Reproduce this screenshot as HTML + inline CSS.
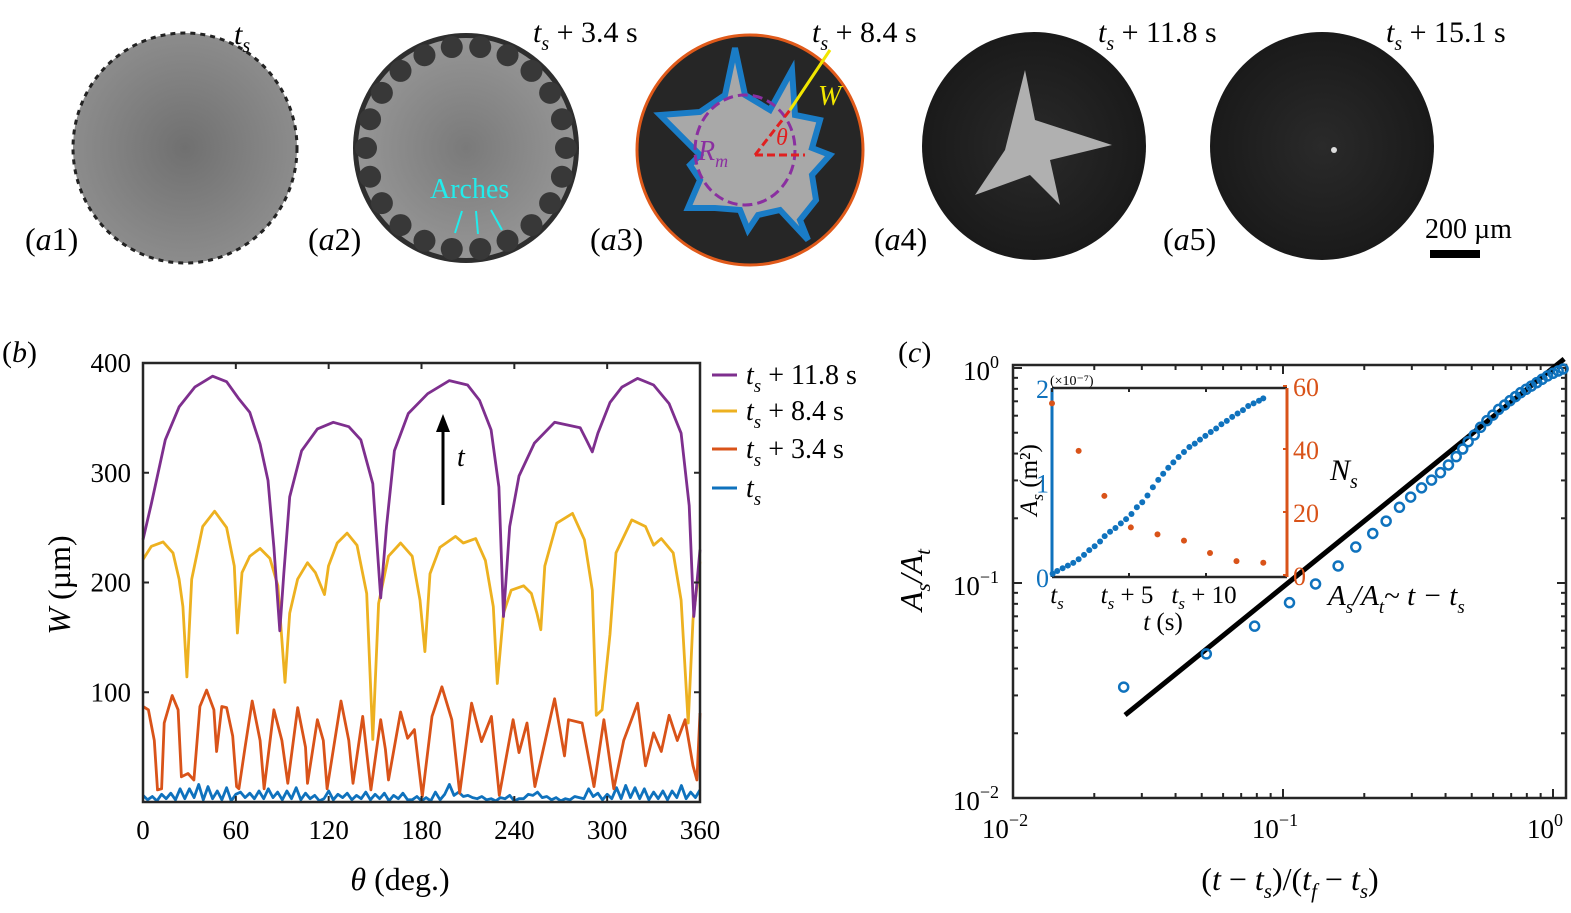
<!DOCTYPE html>
<html><head><meta charset="utf-8"><style>
html,body{margin:0;padding:0;background:#fff;}
svg{display:block;font-family:"Liberation Serif",serif;}
</style></head><body>
<svg id="fig" width="1571" height="913" viewBox="0 0 1571 913" xmlns="http://www.w3.org/2000/svg">
<defs>
<radialGradient id="g1" cx="50%" cy="50%" r="50%"><stop offset="0" stop-color="#707070"/><stop offset="1" stop-color="#8c8c8c"/></radialGradient>
<radialGradient id="g2" cx="50%" cy="50%" r="50%"><stop offset="0" stop-color="#7a7a7a"/><stop offset="1" stop-color="#959595"/></radialGradient>
<radialGradient id="gd" cx="50%" cy="50%" r="50%"><stop offset="0" stop-color="#2a2a2a"/><stop offset="1" stop-color="#1a1a1a"/></radialGradient>
</defs>
<g>
 <g>
  <ellipse cx="185" cy="148" rx="112" ry="115" fill="url(#g1)" stroke="#222" stroke-width="3" stroke-dasharray="5 5"/>
  <text x="234" y="44" font-size="30" font-style="italic">t<tspan font-size="20" dy="8">s</tspan></text>
  <text x="25" y="250" font-size="32">(<tspan font-style="italic">a</tspan>1)</text>
 </g>
 <g id="a2g">
  <ellipse cx="466" cy="148" rx="113" ry="115" fill="#2e2e2e"/>
  <ellipse cx="466" cy="148" rx="108" ry="110" fill="url(#g2)"/>
  <text x="533" y="42" font-size="30"><tspan font-style="italic">t</tspan><tspan font-size="20" dy="8" font-style="italic">s</tspan><tspan dy="-8"> + 3.4 s</tspan></text>
  <text x="430" y="198" font-size="28" fill="#22ecec">Arches</text>
  <path d="M462,211 L455,233 M476,211 L478,234 M491,210 L502,230" stroke="#22ecec" stroke-width="2"/>
  <text x="308" y="250" font-size="32">(<tspan font-style="italic">a</tspan>2)</text>
 </g>
 <g>
  <ellipse cx="750" cy="150" rx="113" ry="115" fill="#262626" stroke="#e05a1a" stroke-width="3"/>
  <path d="M735,48 L745,95 L770,110 L792,70 L795,115 L820,120 L812,148 L830,155 L812,175 L816,200 L800,220 L808,240 L780,210 L758,215 L748,230 L740,210 L715,208 L688,208 L700,180 L690,165 L700,155 L660,115 L700,112 L725,95 Z" fill="#a8a8a8" stroke="#1a7cc6" stroke-width="6"/>
  <ellipse cx="745" cy="150" rx="50" ry="55" fill="none" stroke="#8a2fa0" stroke-width="3" stroke-dasharray="10 5"/>
  <line x1="755" y1="155" x2="805" y2="155" stroke="#e02020" stroke-width="3" stroke-dasharray="8 4"/>
  <line x1="755" y1="155" x2="790" y2="110" stroke="#e02020" stroke-width="3" stroke-dasharray="8 4"/>
  <line x1="790" y1="110" x2="830" y2="50" stroke="#f2e600" stroke-width="3"/>
  <text x="818" y="105" font-size="28" font-style="italic" fill="#f2e600">W</text>
  <text x="698" y="160" font-size="28" font-style="italic" fill="#8a2fa0">R<tspan font-size="18" dy="7">m</tspan></text>
  <text x="776" y="145" font-size="24" font-style="italic" fill="#e02020">θ</text>
  <text x="812" y="42" font-size="30"><tspan font-style="italic">t</tspan><tspan font-size="20" dy="8" font-style="italic">s</tspan><tspan dy="-8"> + 8.4 s</tspan></text>
  <text x="590" y="250" font-size="32">(<tspan font-style="italic">a</tspan>3)</text>
 </g>
 <g>
  <ellipse cx="1034" cy="146" rx="112" ry="114" fill="url(#gd)"/>
  <path d="M1025,70 L1035,120 L1112,145 L1050,160 L1060,205 L1030,175 L975,195 L1005,150 Z" fill="#b0b0b0"/>
  <text x="1098" y="42" font-size="30"><tspan font-style="italic">t</tspan><tspan font-size="20" dy="8" font-style="italic">s</tspan><tspan dy="-8"> + 11.8 s</tspan></text>
  <text x="874" y="250" font-size="32">(<tspan font-style="italic">a</tspan>4)</text>
 </g>
 <g>
  <ellipse cx="1322" cy="146" rx="112" ry="114" fill="url(#gd)"/>
  <circle cx="1334" cy="150" r="3" fill="#ddd"/>
  <text x="1386" y="42" font-size="30"><tspan font-style="italic">t</tspan><tspan font-size="20" dy="8" font-style="italic">s</tspan><tspan dy="-8"> + 15.1 s</tspan></text>
  <text x="1163" y="250" font-size="32">(<tspan font-style="italic">a</tspan>5)</text>
  <text x="1425" y="238" font-size="28">200 µm</text>
  <rect x="1430" y="250" width="50" height="8" fill="#000"/>
 </g>
</g>
<g id="panelB"></g>
<g id="panelC"></g>
</svg>
<script>
// ---------- Panel (b) data ----------
const purpleTheta=[0,5.4,14.4,23.3,33.5,45,54,61.6,69,75.7,80.8,84.6,88.4,91,94.8,102.5,112.7,123,133,140.8,148.5,153.6,157.4,162.5,171.5,184,198,209.8,217.5,225,230,233,237,243,253,266,282.6,286.5,290.4,294,301.8,309.5,319.7,330,340,347.8,353,356,360];
const purpleW=[239,272,330,360,378,388,383,368,355,326,293,232,156,208,278,320,340,346,342,330,290,186,251,320,354,372,384,380,366,339,287,169,251,297,327,346,341,330,319,336,364,378,386,380,363,336,270,169,230];
const yellowTheta=[0,5.4,13,19.4,23.3,25.8,28.4,31.5,38.6,46.3,54,59,61,64,69,75.7,82,87.2,91.8,94.8,99.9,106.3,111.4,117.3,119.9,125.5,131.9,138.3,144.6,148.5,152.3,158.7,166.5,174,179,182.2,185.5,191.9,202,207,215,221.3,226.4,229,233,238,246,251,254.6,257.1,259.7,267.4,277.6,285.3,290.4,293,296.7,301.8,305.7,315.9,324.8,330,335,342.7,347.8,352.4,355.5,360];
const yellowW=[221,233,237,227,203,178,114,203,251,265,250,215,154,209,224,231,222,197,109,172,203,218,209,189,215,236,245,234,190,57,181,224,236,224,184,137,208,232,242,236,240,220,178,108,172,193,197,190,172,157,215,254,263,239,193,79,84,153,227,257,251,234,240,227,184,72,166,219];
const orangeTheta=[0,3.5,7.3,9.4,12,13.7,18.9,22.7,24.8,29.1,32.9,36.8,41.1,45.8,47.6,50.9,54,58,60.5,62,66,70.6,75.7,78.3,84.6,89.8,93.6,100,105,106.3,112.7,116.5,119,128,133,135.7,142,147.3,153.6,156.7,158.7,166.5,171,175.4,180.5,186.8,193.2,199.6,204.7,212.4,218.8,225.2,230.3,239.2,243,248.2,253.3,266,272.4,275,283.8,291.5,297.9,304.3,310.7,319.7,324.8,330,335,340,345.3,350.4,355.5,358,360];
const orangeW=[87,84,56,11,12,72,97,84,23,26,20,87,102,84,46,87,86,60,14,12,50,92,56,12,84,56,17,86,50,17,75,56,12,92,56,17,78,11,75,48,20,82,58,66,5,78,105,75,8,90,55,78,6,75,45,72,14,94,42,75,72,14,75,12,56,90,33,63,46,79,56,75,33,20,81];
const blueTheta=[0,3,6,9,12,15,18,21,24,27,30,33,36,39,42,45,48,51,54,57,60,63,66,69,72,75,78,81,84,87,90,93,96,99,102,105,108,111,114,117,120,123,126,129,132,135,138,141,144,147,150,153,156,159,162,165,168,171,174,177,180,183,186,189,192,195,198,201,204,207,210,213,216,219,222,225,228,231,234,237,240,243,246,249,252,255,258,261,264,267,270,273,276,279,282,285,288,291,294,297,300,303,306,309,312,315,318,321,324,327,330,333,336,339,342,345,348,351,354,357,360];
const blueW=[6,2,5,1,7,3,8,2,12,3,12,4,16,2,14,3,10,2,13,1,7,9,4,8,3,10,3,12,4,9,2,10,3,13,2,8,3,6,1,3,10,2,7,4,8,2,6,3,9,2,7,3,8,1,6,3,8,2,2,5,1,4,1,9,2,7,16,6,9,5,6,4,3,5,2,3,1,4,3,6,1,3,3,7,6,9,4,5,2,4,1,3,2,5,4,3,12,5,8,2,7,3,13,3,15,4,13,3,12,2,9,3,10,2,10,4,15,3,9,4,11];
const bXTicks=[0,60,120,180,240,300,360];
const bYTicks=[100,200,300,400];
const bLegend=["t_s + 11.8 s","t_s + 8.4 s","t_s + 3.4 s","t_s"];

// ---------- Panel (c) data ----------
const ratioX=[0.0257,0.052,0.0785,0.1057,0.132,0.160,0.186,0.215,0.241,0.270,0.297,0.326,0.355,0.383,0.410,0.438,0.463,0.485,0.511,0.539,0.569,0.599,0.629,0.662,0.693,0.726,0.759,0.795,0.831,0.871,0.911,0.954,1.0,1.045,1.09];
const ratioY=[0.0328,0.0468,0.063,0.081,0.099,0.120,0.147,0.170,0.194,0.225,0.251,0.277,0.301,0.326,0.354,0.387,0.420,0.454,0.488,0.530,0.569,0.604,0.642,0.673,0.705,0.736,0.768,0.796,0.824,0.855,0.886,0.918,0.945,0.968,0.99];
const fitX=[0.026,1.1];
const fitY=[0.0243,1.0];
const insetT=[0.04,0.34,0.69,1.03,1.38,1.73,2.08,2.42,2.77,3.12,3.42,3.77,4.12,4.47,4.81,5.16,5.51,5.86,6.20,6.55,6.90,7.22,7.55,7.88,8.22,8.57,8.92,9.27,9.61,9.96,10.31,10.66,11.00,11.35,11.70,12.05,12.40,12.74,13.09,13.44,13.72];
const insetA=[0.035,0.064,0.092,0.121,0.149,0.188,0.234,0.284,0.326,0.376,0.433,0.479,0.518,0.567,0.613,0.667,0.738,0.791,0.862,0.950,1.028,1.092,1.156,1.213,1.270,1.323,1.376,1.411,1.454,1.493,1.535,1.571,1.617,1.652,1.695,1.730,1.766,1.809,1.837,1.865,1.890];
const nsT=[0,1.73,3.40,5.12,6.85,8.57,10.26,11.98,13.72];
const nsN=[54.5,39.4,25.1,15.1,12.9,10.9,7.0,4.4,3.9];
const cDecades=[-2,-1,0];

const NS="http://www.w3.org/2000/svg";
function mk(tag,attrs,parent,txt){const e=document.createElementNS(NS,tag);for(const k in attrs)e.setAttribute(k,attrs[k]);if(txt!==undefined)e.textContent=txt;parent.appendChild(e);return e;}

// a2 arches decoration (image texture)
const A2=document.getElementById('a2g');
for(let k=0;k<22;k++){
  const ang=k/22*2*Math.PI;
  const ar=mk('ellipse',{cx:466+100*Math.cos(ang),cy:148+102*Math.sin(ang),rx:11,ry:11,fill:'#383838'},A2);
  A2.insertBefore(ar,A2.children[2]);
}

// ---- Panel b ----
const B=document.getElementById('panelB');
const bx0=143,bx1=700,by0=802,byTop=363;
const bxs=t=>bx0+(t/360)*(bx1-bx0);
const bys=w=>by0-(w/400)*(by0-byTop);
function line(xs,ys,color,name,sx,sy,parent,width){
  let d='';for(let i=0;i<xs.length;i++){d+=(i?'L':'M')+sx(xs[i]).toFixed(1)+','+sy(ys[i]).toFixed(1);}
  const p=mk('path',{d:d,fill:'none',stroke:color,'stroke-width':width||2.8,'stroke-linejoin':'round'},parent);
  
  
  return p;
}
line(blueTheta,blueW,'#0f72bd','series-ts',bxs,bys,B);
line(orangeTheta,orangeW,'#d95319','series-ts-3-4',bxs,bys,B);
line(yellowTheta,yellowW,'#edb120','series-ts-8-4',bxs,bys,B);
line(purpleTheta,purpleW,'#7e2f8e','series-ts-11-8',bxs,bys,B);
const bFrame=mk('rect',{x:bx0,y:byTop,width:bx1-bx0,height:by0-byTop,fill:'none',stroke:'#262626','stroke-width':2.5},B);


bXTicks.forEach(t=>{
  const x=bxs(t);
  mk('line',{x1:x,y1:by0,x2:x,y2:by0-6,stroke:'#262626','stroke-width':2},B);
  mk('line',{x1:x,y1:byTop,x2:x,y2:byTop+6,stroke:'#262626','stroke-width':2},B);
  const tl=mk('text',{x:x,y:by0+37,'font-size':27,'text-anchor':'middle'},B,String(t));
  
  
});
bYTicks.forEach(w=>{
  const y=bys(w);
  mk('line',{x1:bx0,y1:y,x2:bx0+6,y2:y,stroke:'#262626','stroke-width':2},B);
  mk('line',{x1:bx1,y1:y,x2:bx1-6,y2:y,stroke:'#262626','stroke-width':2},B);
  const tl=mk('text',{x:bx0-12,y:y+9,'font-size':27,'text-anchor':'end'},B,String(w));
  
  
});
mk('line',{x1:443,y1:505,x2:443,y2:430,stroke:'#000','stroke-width':3},B);
mk('polygon',{points:'436,432 450,432 443,414',fill:'#000'},B);
mk('text',{x:457,y:466,'font-size':28,'font-style':'italic'},B,'t');
const bxt=mk('text',{x:400,y:890,'font-size':32,'text-anchor':'middle'},B);


bxt.innerHTML='<tspan font-style="italic">θ</tspan> (deg.)';
const byt=mk('text',{x:0,y:0,'font-size':32,'text-anchor':'middle',transform:'translate(70,585) rotate(-90)'},B);


byt.innerHTML='<tspan font-style="italic">W</tspan> (µm)';
const bl=mk('text',{x:2,y:362,'font-size':30},B);
bl.innerHTML='(<tspan font-style="italic">b</tspan>)';


const legCols=['#7e2f8e','#edb120','#d95319','#0f72bd'];
const legY=[375,411,449,488];
bLegend.forEach((s,i)=>{
  const g=mk('g',{},B);
  
  
  mk('line',{x1:712,y1:legY[i],x2:737,y2:legY[i],stroke:legCols[i],'stroke-width':3},g);
  const parts=s.split(' + ');
  const t=mk('text',{x:746,y:legY[i]+9,'font-size':28},g);
  t.innerHTML='<tspan font-style="italic">t</tspan><tspan font-style="italic" font-size="19" dy="8">s</tspan>'+(parts[1]?'<tspan dy="-8"> + '+parts[1]+'</tspan>':'');
});

// ---- Panel c ----
const C=document.getElementById('panelC');
const cx0=1013,cx1=1566,cyTop=368,cyBot=798;
const cxs=v=>cx0+(Math.log10(v)+2)*270;
const cys=v=>cyTop-Math.log10(v)*215;
const cFrame=mk('rect',{x:cx0,y:cyTop-3,width:cx1-cx0,height:cyBot-cyTop+3,fill:'none',stroke:'#262626','stroke-width':2.5},C);


cDecades.forEach(d=>{
  for(let m=1;m<10;m++){
    const v=m*Math.pow(10,d);
    const x=cxs(v), len=m===1?9:5;
    if(x<=cx1){mk('line',{x1:x,y1:cyBot,x2:x,y2:cyBot-len,stroke:'#262626','stroke-width':2},C);
    mk('line',{x1:x,y1:cyTop-3,x2:x,y2:cyTop-3+len,stroke:'#262626','stroke-width':2},C);}
    const y=cys(v);
    if(y>=cyTop-3&&y<=cyBot){mk('line',{x1:cx0,y1:y,x2:cx0+len,y2:y,stroke:'#262626','stroke-width':2},C);
    mk('line',{x1:cx1,y1:y,x2:cx1-len,y2:y,stroke:'#262626','stroke-width':2},C);}
  }
  const xl=mk('text',{x:cxs(Math.pow(10,d))-8,y:cyBot+40,'font-size':27,'text-anchor':'middle'},C);
  xl.innerHTML='10<tspan font-size="18" dy="-12">'+(d<0?'−'+(-d):'0')+'</tspan>';
  
  
  const yl=mk('text',{x:cx0-14,y:cys(Math.pow(10,d))+12,'font-size':27,'text-anchor':'end'},C);
  yl.innerHTML='10<tspan font-size="18" dy="-12">'+(d<0?'−'+(-d):'0')+'</tspan>';
  
  
});
const fx2=Math.min(cx1,cxs(fitX[1]));
const fit=mk('line',{x1:cxs(fitX[0]),y1:cys(fitY[0]),x2:fx2,y2:cys(fitY[0])+(cys(fitY[1])-cys(fitY[0]))*(fx2-cxs(fitX[0]))/(cxs(1)-cxs(fitX[0])),stroke:'#000','stroke-width':5},C);


ratioX.forEach((v,i)=>{
  const x=cxs(v),y=cys(ratioY[i]);
  if(x>cx1)return;
  const c=mk('circle',{cx:x,cy:y,r:4.5,fill:'none',stroke:'#0f72bd','stroke-width':2.5},C);
  
  
});
const ft=mk('text',{x:1328,y:605,'font-size':29,'font-style':'italic'},C);
ft.innerHTML='A<tspan font-size="19" dy="8">s</tspan><tspan dy="-8">/A</tspan><tspan font-size="19" dy="8">t</tspan><tspan dy="-8" font-style="normal">~</tspan><tspan> t − t</tspan><tspan font-size="19" dy="8">s</tspan>';


const cxt=mk('text',{x:1290,y:890,'font-size':32,'text-anchor':'middle'},C);
cxt.innerHTML='(<tspan font-style="italic">t</tspan> − <tspan font-style="italic">t</tspan><tspan font-style="italic" font-size="21" dy="8">s</tspan><tspan dy="-8">)/(</tspan><tspan font-style="italic">t</tspan><tspan font-style="italic" font-size="21" dy="8">f</tspan><tspan dy="-8"> − </tspan><tspan font-style="italic">t</tspan><tspan font-style="italic" font-size="21" dy="8">s</tspan><tspan dy="-8">)</tspan>';


const cyt=mk('text',{x:0,y:0,'font-size':32,'font-style':'italic','text-anchor':'middle',transform:'translate(922,580) rotate(-90)'},C);
cyt.innerHTML='A<tspan font-size="21" dy="8">s</tspan><tspan dy="-8">/A</tspan><tspan font-size="21" dy="8">t</tspan>';


const cl=mk('text',{x:898,y:362,'font-size':30},C);
cl.innerHTML='(<tspan font-style="italic">c</tspan>)';



const I=mk('g',{},C);


const ix0=1052,ix1=1287,iyTop=388,iyBot=577;
const its=t=>ix0+t*15.4;
const ias=a=>iyBot-(a/2)*(iyBot-iyTop);
const ins=n=>iyBot-(n/60)*(iyBot-iyTop)-2;
mk('rect',{x:ix0,y:iyTop,width:ix1-ix0,height:iyBot-iyTop,fill:'#fff',stroke:'none'},I);
mk('line',{x1:ix0,y1:iyTop,x2:ix1,y2:iyTop,stroke:'#262626','stroke-width':2.5},I);
mk('line',{x1:ix0,y1:iyBot,x2:ix1,y2:iyBot,stroke:'#262626','stroke-width':2.5},I);
mk('line',{x1:ix0,y1:iyTop,x2:ix0,y2:iyBot,stroke:'#0f72bd','stroke-width':3},I);
mk('line',{x1:ix1,y1:iyTop,x2:ix1,y2:iyBot,stroke:'#d95319','stroke-width':3},I);
[0,1,2].forEach(a=>{const t=mk('text',{x:ix0-3,y:ias(a)+10,'font-size':26,'text-anchor':'end',fill:'#0f72bd'},I,String(a));});
[0,20,40,60].forEach(n=>{mk('line',{x1:ix1,y1:ins(n),x2:ix1-4,y2:ins(n),stroke:'#d95319','stroke-width':2},I);const t=mk('text',{x:ix1+6,y:ins(n)+10,'font-size':26,fill:'#d95319'},I,String(n));});
[0,5,10].forEach((t,i)=>{mk('line',{x1:its(t),y1:iyBot,x2:its(t),y2:iyBot-4,stroke:'#262626','stroke-width':2},I);mk('line',{x1:its(t),y1:iyTop,x2:its(t),y2:iyTop+4,stroke:'#262626','stroke-width':2},I);
 const tx=mk('text',{x:its(t)+(i?-2:5),y:iyBot+26,'font-size':25,'text-anchor':'middle'},I);
 tx.innerHTML='<tspan font-style="italic">t</tspan><tspan font-style="italic" font-size="17" dy="6">s</tspan>'+(t?'<tspan dy="-6"> + '+t+'</tspan>':'');
 
 });
mk('text',{x:1050,y:385,'font-size':14},I,'(×10⁻⁷)');
const itl=mk('text',{x:1163,y:630,'font-size':25,'text-anchor':'middle'},I);itl.innerHTML='<tspan font-style="italic">t</tspan> (s)';
const ial=mk('text',{x:0,y:0,'font-size':25,'text-anchor':'middle',transform:'translate(1037,480) rotate(-90)'},I);ial.innerHTML='<tspan font-style="italic">A</tspan><tspan font-style="italic" font-size="17" dy="6">s</tspan><tspan dy="-6"> (m²)</tspan>';
const nl=mk('text',{x:1330,y:480,'font-size':30,'font-style':'italic'},C);nl.innerHTML='N<tspan font-size="20" dy="8">s</tspan>';
insetT.forEach((t,i)=>{const c=mk('circle',{cx:its(t),cy:ias(insetA[i]),r:3,fill:'#0f72bd'},I);});
nsT.forEach((t,i)=>{const c=mk('circle',{cx:its(t),cy:ins(nsN[i]),r:3,fill:'#d95319'},I);});
</script>
</body></html>
